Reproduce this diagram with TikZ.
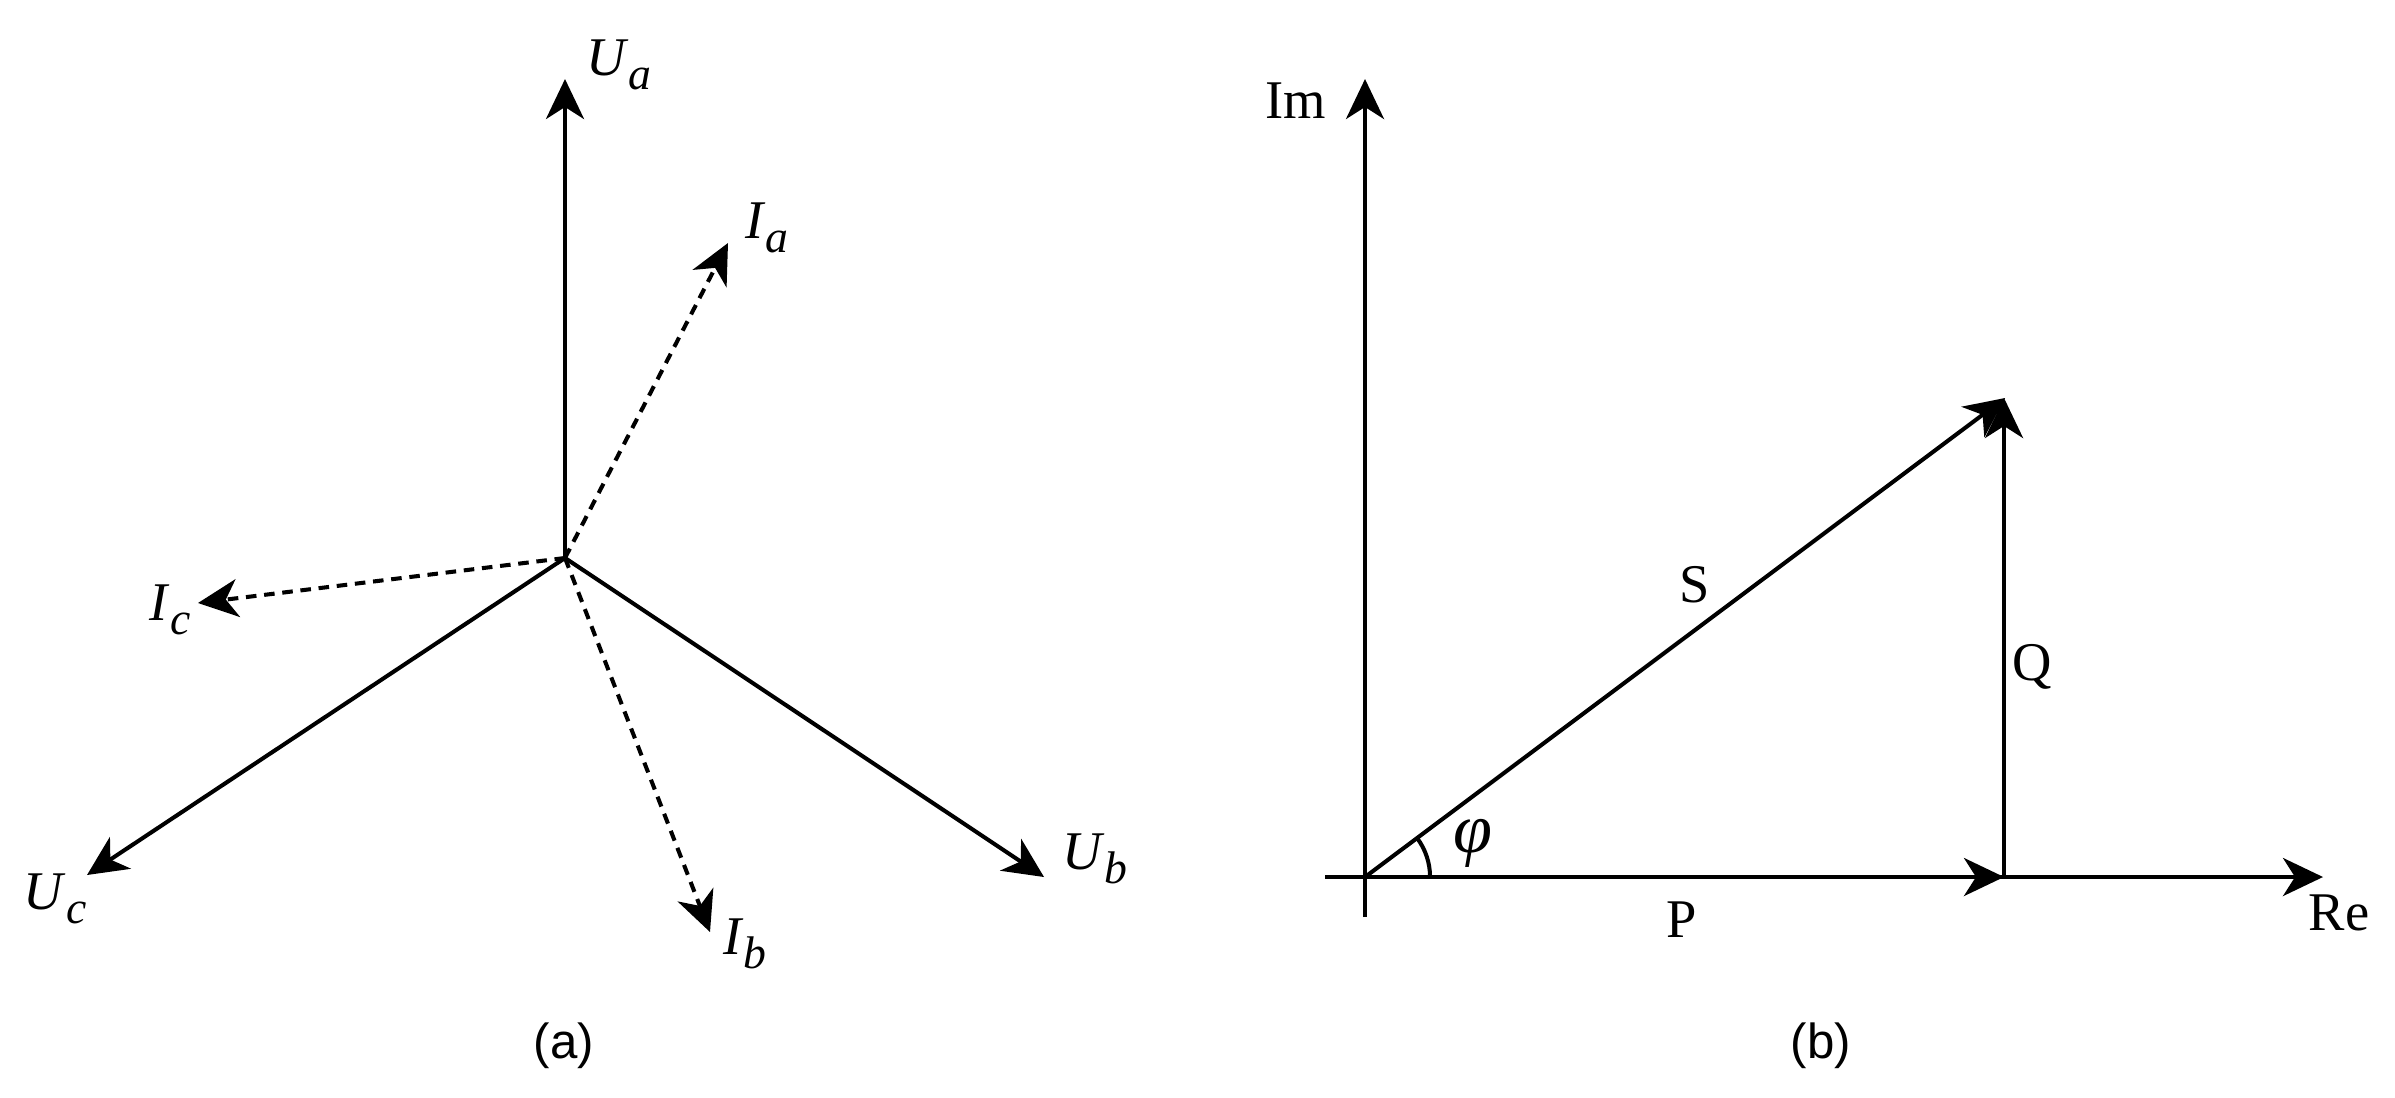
\documentclass[tikz,border=0pt]{standalone}
\usepackage{fontspec}
\setmainfont{Liberation Serif}
\newfontfamily\labsans{Liberation Sans}
\usetikzlibrary{arrows.meta}
\newcommand\vlab[2]{\textit{#1}\raisebox{-0.55ex}{\fontsize{13}{14}\selectfont\textit{#2}}}
\begin{document}
\begin{tikzpicture}[x=0.01cm,y=-0.01cm,
  vec/.style={line width=1.15pt,-{Stealth[length=4mm,width=3.8mm,inset=1.2mm]}},
  cur/.style={vec,dash pattern=on 3pt off 2.2pt},
  lab/.style={inner sep=0pt,font=\fontsize{15.5}{17}\selectfont},
  rlab/.style={inner sep=0pt,font=\fontsize{15.5}{17}\selectfont},
  captext/.style={inner sep=0pt,font=\labsans\fontsize{14}{16}\selectfont}]
\useasboundingbox (0,0) rectangle (2395,1097);
% ---- (a) ----
\coordinate (C) at (565,558);
\coordinate (Ua) at (565,79);
\coordinate (Ia) at (728,243);
\coordinate (Ic) at (198,603);
\coordinate (Uc) at (87,875);
\coordinate (Ib) at (710,932);
\coordinate (Ub) at (1044,877);
\draw[vec] (C) -- (Ua);
\draw[vec] (C) -- (Uc);
\draw[vec] (C) -- (Ub);
\draw[cur] (C) -- (Ia);
\draw[cur] (C) -- (Ic);
\draw[cur] (C) -- (Ib);
\node[lab] (lUa) at (619,65) {\vlab{U}{a}};
\node[lab] (lIa) at (767,228) {\vlab{I}{a}};
\node[lab] (lIc) at (170,610) {\vlab{I}{c}};
\node[lab] (lUc) at (55,899) {\vlab{U}{c}};
\node[lab] (lIb) at (745,944) {\vlab{I}{b}};
\node[lab] (lUb) at (1095,859) {\vlab{U}{b}};
\node[captext] (ca) at (564,1046) {(a)};
% ---- (b) ----
\coordinate (O) at (1365,877);
\coordinate (Imb) at (1365,917);
\coordinate (Imt) at (1365,79);
\coordinate (Rel) at (1325,877);
\coordinate (Ret) at (2323,877);
\coordinate (Stip) at (2005,398);
\coordinate (Qb) at (2004,877);
\coordinate (Qt) at (2004,398);
\draw[vec] (Imb) -- (Imt);
\draw[vec] (Rel) -- (Ret);
\draw[vec] (O) -- (Stip);
\draw[vec] (Qb) -- (Qt);
\draw[vec] (O) -- (Qb);
\draw[line width=1.15pt] ([xshift=0.65cm]O) arc[start angle=0,end angle=36.8,radius=0.65cm];
\node[rlab] (lIm) at (1296,101) {Im};
\node[rlab] (lRe) at (2339,913) {Re};
\node[rlab] (lS) at (1695,585) {S};
\node[rlab] (lQ) at (2032,667) {Q};
\node[rlab] (lP) at (1682,920) {P};
\node[inner sep=0pt,font=\fontsize{20}{22}\selectfont] (lphi) at (1473,843) {\textit{φ}};
\node[captext] (cb) at (1821,1046) {(b)};
\end{tikzpicture}
\end{document}
